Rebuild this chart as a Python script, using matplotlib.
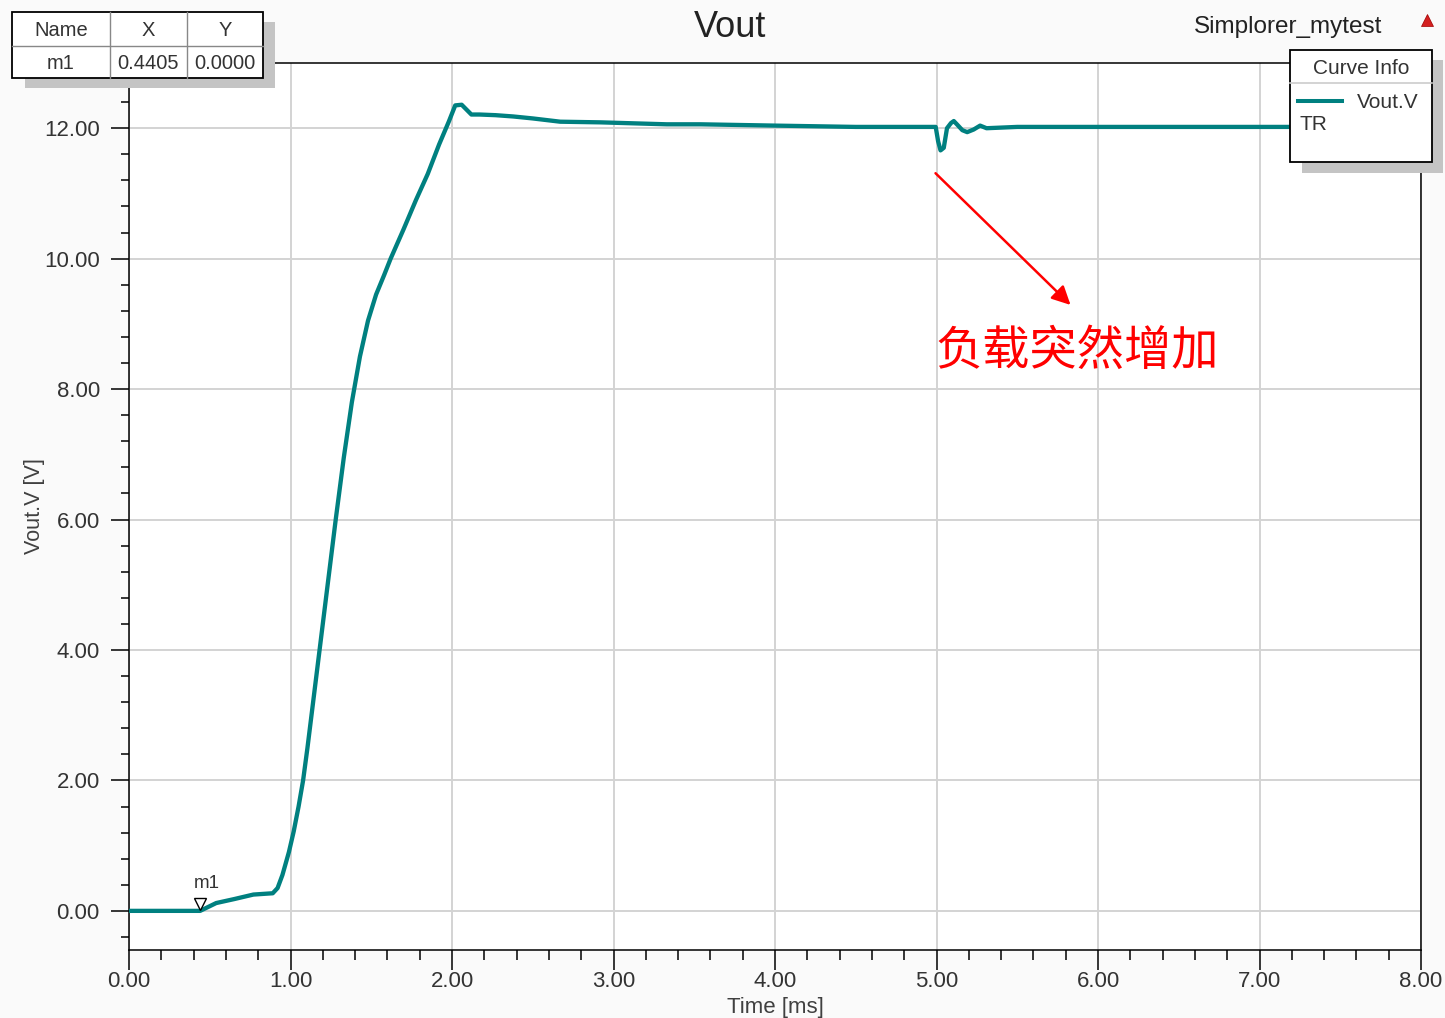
import matplotlib
matplotlib.use("Agg")
import matplotlib.pyplot as plt
from matplotlib.patches import Rectangle
from matplotlib.ticker import MultipleLocator, FormatStrFormatter
from matplotlib.transforms import offset_copy

# ---- transient response of Vout (time in ms, voltage in V) ----
time_ms = [0.0, 0.44, 0.4405, 0.54, 0.65, 0.77, 0.89, 0.92, 0.95, 0.99, 1.02,
           1.05, 1.078, 1.105, 1.13, 1.18, 1.23, 1.28, 1.33, 1.38, 1.43, 1.48,
           1.53, 1.58, 1.62, 1.70, 1.777, 1.85, 1.92, 1.98, 2.02, 2.06, 2.12,
           2.17, 2.27, 2.38, 2.5, 2.67, 2.92, 3.33, 3.54, 4.0, 4.5, 4.995, 5.01,
           5.025, 5.045, 5.065, 5.09, 5.107, 5.13, 5.16, 5.19, 5.23, 5.27, 5.31,
           5.5, 6.0, 7.0, 8.0]
vout_v = [0.0, 0.0, 0.0, 0.12, 0.18, 0.25, 0.27, 0.35, 0.55, 0.9, 1.22,
          1.6, 2.0, 2.5, 3.0, 4.0, 5.0, 6.0, 6.95, 7.8, 8.5, 9.05,
          9.45, 9.75, 10.0, 10.45, 10.9, 11.3, 11.75, 12.1, 12.35, 12.36, 12.21,
          12.21, 12.2, 12.18, 12.15, 12.1, 12.09, 12.06, 12.06, 12.04, 12.02, 12.02, 11.8,
          11.66, 11.7, 12.0, 12.08, 12.11, 12.05, 11.97, 11.94, 11.98, 12.04, 12.0,
          12.02, 12.02, 12.02, 12.02]

x_ticks = [0, 1, 2, 3, 4, 5, 6, 7, 8]
y_ticks = [0, 2, 4, 6, 8, 10, 12]

marker_name = "m1"
marker_x = 0.4405
marker_y = 0.0

table_header = ["Name", "X", "Y"]
table_row = ["m1", "0.4405", "0.0000"]

annotation_text = "负载突然增加"
arrow_tail = (4.994, 11.31)
arrow_head = (5.83, 9.29)

TEAL = "#008080"
TXT = "#333333"
W, H = 1445, 1018

plt.rcParams["font.family"] = ["Liberation Sans", "DejaVu Sans"]

fig = plt.figure(figsize=(W / 100, H / 100), dpi=100, facecolor="#fafafa")
ax = fig.add_axes([129 / W, 68 / H, (1421 - 129) / W, (950 - 63) / H])
ax.set_facecolor("white")

ax.plot(time_ms, vout_v, color=TEAL, lw=3.1, solid_joinstyle="round", zorder=3)

ax.set_xlim(0, 8)
ax.set_ylim(-0.6, 13.0)
ax.set_xticks(x_ticks)
ax.set_yticks(y_ticks)
ax.xaxis.set_minor_locator(MultipleLocator(0.2))
ax.yaxis.set_minor_locator(MultipleLocator(0.4))
ax.xaxis.set_major_formatter(FormatStrFormatter("%.2f"))
ax.yaxis.set_major_formatter(FormatStrFormatter("%.2f"))
ax.tick_params(axis="x", which="major", direction="out", length=14.4, width=1.1,
               pad=1, labelsize=16, labelcolor=TXT)
ax.tick_params(axis="x", which="minor", direction="out", length=7.2, width=1.1)
ax.tick_params(axis="y", which="major", direction="out", length=13, width=1.1,
               pad=8, labelsize=16, labelcolor=TXT)
ax.tick_params(axis="y", which="minor", direction="out", length=5.8, width=1.1)
for s in ax.spines.values():
    s.set_linewidth(1.1)
    s.set_color("black")
ax.grid(True, which="major", color="#d3d3d3", lw=1.4, zorder=0)
ax.set_axisbelow(True)

ax.set_xlabel("Time [ms]", fontsize=16, color="#404040", labelpad=3)
ax.set_ylabel("Vout.V [V]", fontsize=15.5, color="#404040", labelpad=-1)

# marker m1
tri_tr = offset_copy(ax.transData, fig=fig, x=0, y=6.5, units="dots")
ax.plot([marker_x], [marker_y], marker="v", ms=8.6, mfc="white", mec="black",
        mew=1.0, transform=tri_tr, zorder=5, clip_on=False)
ax.annotate(marker_name, xy=(marker_x, marker_y), xytext=(5, 20),
            textcoords="offset points", ha="center", va="center",
            fontsize=13.5, color=TXT, zorder=5)

# load step annotation
ax.annotate("", xy=arrow_head, xytext=arrow_tail,
            arrowprops=dict(arrowstyle="-|>", color="red", lw=1.8,
                            mutation_scale=28, shrinkA=0, shrinkB=0), zorder=6)
ax.text(arrow_tail[0], 8.57, annotation_text, color="red", fontsize=34,
        family=["Noto Sans CJK SC", "DejaVu Sans"], fontweight="light",
        ha="left", va="center", zorder=6)

# overlay in pixel coordinates for the header, marker table and curve info box
ov = fig.add_axes([0, 0, 1, 1], zorder=10)
ov.set_xlim(0, W)
ov.set_ylim(H, 0)
ov.axis("off")
ov.patch.set_alpha(0)

ov.text(730, 27, "Vout", fontsize=26, ha="center", va="center", color="#222222")
ov.text(1288, 27, "Simplorer_mytest", fontsize=17.5, ha="center", va="center",
        color="#222222")
ov.plot([1427], [20], marker="^", ms=9, color="#d42020", mec="#a00000", mew=0.5)

# marker table
ov.add_patch(Rectangle((25, 22), 250, 66, fc="#c4c4c4", ec="none"))
ov.add_patch(Rectangle((12, 12), 251, 66, fc="white", ec="black", lw=1.3))
ov.plot([12, 263], [46, 46], color="#888888", lw=1.0)
for cx in (110, 187):
    ov.plot([cx, cx], [12, 78], color="#888888", lw=1.0)
col_centers = [61, 148.5, 225]
for cx, h, r in zip(col_centers, table_header, table_row):
    ov.text(cx, 30, h, fontsize=14.5, ha="center", va="center", color=TXT)
    ov.text(cx, 63, r, fontsize=14.5, ha="center", va="center", color=TXT)

# curve info box
ov.add_patch(Rectangle((1302, 60), 141, 113, fc="#c4c4c4", ec="none"))
ov.add_patch(Rectangle((1290, 50), 142, 112, fc="white", ec="black", lw=1.3))
ov.plot([1290, 1432], [83, 83], color="#cccccc", lw=1.2)
ov.text(1361, 68, "Curve Info", fontsize=15, ha="center", va="center", color=TXT)
ov.plot([1298, 1342], [101, 101], color=TEAL, lw=2.9)
ov.text(1419, 102, "Vout.V", fontsize=15, ha="right", va="center", color=TXT)
ov.text(1299, 124, "TR", fontsize=15, ha="left", va="center", color=TXT)

fig.savefig("out.png", dpi=100, facecolor=fig.get_facecolor())
